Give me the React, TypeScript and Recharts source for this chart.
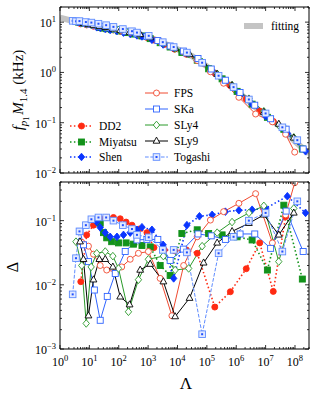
import React from 'react'
import { LineChart, Line, XAxis, YAxis } from 'recharts'

const FONT = '"Liberation Serif", "DejaVu Serif", serif'

// fitting curve (grey band)
const fitLam = [1, 3.16, 10, 31.6, 100, 316, 1000, 3160, 1e4, 3.16e4, 1e5, 3.16e5, 1e6, 3.16e6, 1e7, 3.16e7, 1e8, 3e8]
const fitVal = [12.3, 10.3, 9.0, 7.96, 7.0, 6.07, 5.13, 3.9, 2.9, 2.1, 1.32, 0.76, 0.44, 0.245, 0.135, 0.084, 0.042, 0.0245]

const dd2Lam = [5.1, 8.1, 13.8, 23.4, 38.9, 66, 112, 178, 282, 501, 912, 1580, 3550, 7940, 2.0e4, 4.7e4, 1.86e5, 6.3e5, 2.19e6, 6.3e6, 1.82e7, 4.8e7]
const dd2Fp = [9.25, 8.8, 8.3, 7.85, 7.4, 7.0, 6.6, 6.2, 5.9, 5.45, 4.95, 4.4, 3.6, 2.9, 2.3, 1.75, 0.97, 0.55, 0.295, 0.17, 0.106, 0.067]
const dd2Delta = [0.0112, 0.06, 0.085, 0.107, 0.112, 0.112, 0.107, 0.095, 0.085, 0.074, 0.065, 0.038, 0.035, 0.034, 0.035, 0.031, 0.0045, 0.0078, 0.0178, 0.045, 0.0079, 0.115]

const miyLam = [23.4, 30.2, 38.9, 57.5, 98, 178, 316, 617, 1175, 2570, 5620, 1.41e4, 4.7e4, 1.15e5, 3.3e5, 1.07e6, 3.47e6, 1.15e7, 4.17e7, 1.78e8]
const miyFp = [7.85, 7.6, 7.4, 7.1, 6.7, 6.2, 5.8, 5.3, 4.7, 3.9, 3.2, 2.5, 1.75, 1.18, 0.745, 0.42, 0.234, 0.128, 0.074, 0.03]
const miyDelta = [0.091, 0.065, 0.054, 0.047, 0.045, 0.045, 0.043, 0.041, 0.039, 0.02, 0.014, 0.063, 0.072, 0.063, 0.06, 0.056, 0.05, 0.017, 0.174, 0.0123]

const shenLam = [17.8, 23.4, 34.7, 51, 87, 145, 245, 417, 617, 1350, 3240, 7410, 2.09e4, 5.6e4, 1.51e5, 4.27e5, 1.23e6, 3.47e6, 1.0e7, 5.5e7, 2.29e8]
const shenFp = [7.9, 7.7, 7.35, 7.0, 6.65, 6.2, 5.85, 5.45, 5.2, 4.45, 3.6, 3.1, 2.4, 1.7, 1.07, 0.67, 0.39, 0.234, 0.135, 0.0615, 0.027]
const shenDelta = [0.095, 0.078, 0.065, 0.056, 0.056, 0.06, 0.065, 0.072, 0.079, 0.072, 0.042, 0.0126, 0.085, 0.117, 0.123, 0.138, 0.145, 0.148, 0.155, 0.24, 0.132]

const fpsLam = [5.5, 9.3, 13.8, 23.4, 38.9, 76, 126, 245, 468, 1020, 2570, 6460, 1.62e4, 4.68e4, 1.32e5, 3.72e5, 1.23e6, 4.57e6, 1.7e7, 4.79e7, 9.77e7]
const fpsFp = [9.6, 9.1, 8.7, 8.2, 7.8, 7.2, 6.8, 6.3, 5.75, 5.1, 4.1, 3.2, 2.55, 1.73, 1.03, 0.61, 0.32, 0.149, 0.104, 0.059, 0.026]
const fpsDelta = [0.046, 0.04, 0.03, 0.02, 0.017, 0.016, 0.019, 0.025, 0.031, 0.033, 0.0126, 0.0033, 0.02, 0.056, 0.102, 0.138, 0.186, 0.263, 0.045, 0.123, 0.39]

const skaLam = [4.8, 6.3, 9.3, 14.8, 23.4, 40.7, 76, 166, 417, 912, 2140, 5620, 1.58e4, 5.0e4, 1.41e5, 4.27e5, 1.35e6, 4.27e6, 1.48e7, 5.0e7, 1.9e8]
const skaFp = [9.8, 9.45, 9.1, 8.7, 8.2, 7.75, 7.2, 6.6, 5.85, 5.2, 4.3, 3.35, 2.66, 1.89, 1.17, 0.7, 0.4, 0.223, 0.12, 0.0745, 0.03]
const skaDelta = [0.068, 0.042, 0.023, 0.0083, 0.0028, 0.0066, 0.015, 0.033, 0.05, 0.051, 0.051, 0.024, 0.036, 0.062, 0.058, 0.051, 0.062, 0.062, 0.037, 0.141, 0.033]

const sly4Lam = [3.5, 5.5, 7.8, 11.5, 17.8, 34.7, 63, 98, 214, 468, 1020, 3310, 8320, 2.4e4, 6.9e4, 2.24e5, 7.2e5, 2.7e6, 8.7e6, 2.8e7, 9.1e7]
const sly4Fp = [10.1, 9.6, 9.25, 8.9, 8.5, 7.9, 7.35, 7.0, 6.4, 5.75, 5.1, 3.85, 3.0, 2.3, 1.62, 0.94, 0.56, 0.3, 0.169, 0.089, 0.051]
const sly4Delta = [0.047, 0.02, 0.0025, 0.019, 0.031, 0.033, 0.028, 0.018, 0.0038, 0.012, 0.025, 0.028, 0.017, 0.018, 0.04, 0.065, 0.095, 0.132, 0.17, 0.023, 0.155]

const sly9Lam = [4.8, 6.3, 9.3, 13.8, 21.9, 34.7, 63, 112, 234, 537, 1175, 3310, 8320, 2.57e4, 7.76e4, 2.24e5, 7.24e5, 2.69e6, 8.7e6, 2.82e7, 9.1e7]
const sly9Fp = [9.8, 9.45, 9.1, 8.7, 8.3, 7.9, 7.35, 6.9, 6.3, 5.7, 4.95, 3.85, 3.0, 2.28, 1.51, 0.92, 0.55, 0.29, 0.162, 0.094, 0.05]
const sly9Delta = [0.047, 0.025, 0.0033, 0.012, 0.025, 0.025, 0.019, 0.0065, 0.0049, 0.017, 0.021, 0.0112, 0.0032, 0.0062, 0.022, 0.045, 0.068, 0.091, 0.123, 0.06, 0.132]

const togLam = [2.7, 3.5, 4.6, 7.6, 11.7, 20.4, 37.2, 66, 138, 282, 417, 1050, 3160, 7410, 2.09e4, 6.9e4, 2.51e5, 8.1e5, 2.69e6, 1.0e7, 3.72e7, 1.2e8]
const togFp = [10.6, 10.4, 10.5, 10.05, 9.8, 9.3, 8.7, 8.05, 7.3, 6.6, 6.2, 5.35, 4.0, 3.2, 2.48, 1.56, 0.86, 0.51, 0.29, 0.153, 0.081, 0.045]
const togDelta = [0.0071, 0.026, 0.068, 0.085, 0.105, 0.112, 0.112, 0.1, 0.085, 0.074, 0.06, 0.055, 0.035, 0.035, 0.032, 0.0017, 0.031, 0.056, 0.1, 0.132, 0.033, 0.2]

const xMajor = [1, 10, 100, 1e3, 1e4, 1e5, 1e6, 1e7, 1e8]
const topYMajor = [0.01, 0.1, 1, 10]
const botYMajor = [0.001, 0.01, 0.1]

type Marker = 'circle' | 'square' | 'diamond' | 'triangle' | 'squareDot'
type Pt = { lam: number; v: number }

interface Series {
  name: string
  color: string
  marker: Marker
  filled: boolean
  dash?: string
  width: number
  lam: number[]
  fp: number[]
  delta: number[]
}

const SERIES: Series[] = [
  { name: 'DD2', color: '#ff2a12', marker: 'circle', filled: true, dash: '1.5 2.4', width: 1.6, lam: dd2Lam, fp: dd2Fp, delta: dd2Delta },
  { name: 'Miyatsu', color: '#12921a', marker: 'square', filled: true, dash: '1.5 2.4', width: 1.6, lam: miyLam, fp: miyFp, delta: miyDelta },
  { name: 'Shen', color: '#0a35ff', marker: 'diamond', filled: true, dash: '1.5 2.4', width: 1.6, lam: shenLam, fp: shenFp, delta: shenDelta },
  { name: 'FPS', color: '#f04a30', marker: 'circle', filled: false, width: 1, lam: fpsLam, fp: fpsFp, delta: fpsDelta },
  { name: 'SKa', color: '#2f64ff', marker: 'square', filled: false, width: 1, lam: skaLam, fp: skaFp, delta: skaDelta },
  { name: 'SLy4', color: '#2a9a2a', marker: 'diamond', filled: false, width: 1, lam: sly4Lam, fp: sly4Fp, delta: sly4Delta },
  { name: 'SLy9', color: '#000000', marker: 'triangle', filled: false, width: 1, lam: sly9Lam, fp: sly9Fp, delta: sly9Delta },
  { name: 'Togashi', color: '#5f8cff', marker: 'squareDot', filled: false, dash: '3.7 1.6', width: 1, lam: togLam, fp: togFp, delta: togDelta },
]

const zip = (lam: number[], v: number[]): Pt[] => lam.map((l, i) => ({ lam: l, v: v[i] }))

function withMinor(major: number[], max: number) {
  const out: number[] = []
  major.forEach((m) => {
    for (let k = 1; k <= 9; k++) if (m * k <= max * 1.0001) out.push(m * k)
  })
  return out
}

const xTicks = withMinor(xMajor, 3e8)
const topYTicks = withMinor(topYMajor, 20)
const botYTicks = withMinor(botYMajor, 0.4)

const isMajor = (v: number) => {
  const l = Math.log10(v)
  return Math.abs(l - Math.round(l)) < 1e-6
}
const expText = (v: number) => {
  const e = Math.round(Math.log10(v))
  return e < 0 ? '\u2212' + Math.abs(e) : String(e)
}

function Mark({ cx, cy, s }: { cx: number; cy: number; s: Series }) {
  const c = s.color
  const fill = s.filled ? c : '#fff'
  const sw = 0.9
  switch (s.marker) {
    case 'circle':
      return <circle cx={cx} cy={cy} r={3} fill={fill} stroke={c} strokeWidth={sw} />
    case 'square':
      return <rect x={cx - 3} y={cy - 3} width={6} height={6} fill={fill} stroke={c} strokeWidth={sw} />
    case 'diamond':
      return (
        <polygon
          points={`${cx},${cy - 3.8} ${cx + 3.2},${cy} ${cx},${cy + 3.8} ${cx - 3.2},${cy}`}
          fill={fill}
          stroke={c}
          strokeWidth={sw}
        />
      )
    case 'triangle':
      return (
        <polygon
          points={`${cx},${cy - 3.9} ${cx + 3.4},${cy + 2.2} ${cx - 3.4},${cy + 2.2}`}
          fill={fill}
          stroke={c}
          strokeWidth={sw}
        />
      )
    default:
      return (
        <g>
          <rect x={cx - 3.3} y={cy - 3.3} width={6.6} height={6.6} fill="#e2e9ff" stroke={c} strokeWidth={sw} />
          <rect x={cx - 1} y={cy - 1} width={2} height={2} fill="#1f4fff" />
        </g>
      )
  }
}

const XTick = (props: any) => {
  const { x, y, payload, dir, showLabel } = props
  const v = payload.value
  const major = isMajor(v)
  return (
    <g>
      <line x1={x} x2={x} y1={y} y2={y + dir * (major ? 4 : 2)} stroke="#000" strokeWidth={0.8} />
      {showLabel && major && (
        <text x={x} y={y + 17} textAnchor="middle" fontSize={12} fontFamily={FONT} fill="#000">
          10<tspan dy={-5} fontSize={8.5}>{expText(v)}</tspan>
        </text>
      )}
    </g>
  )
}

const YTick = (props: any) => {
  const { x, y, payload, dir, showLabel } = props
  const v = payload.value
  const major = isMajor(v)
  return (
    <g>
      <line x1={x} x2={x + dir * (major ? 4 : 2)} y1={y} y2={y} stroke="#000" strokeWidth={0.8} />
      {showLabel && major && (
        <text x={x - 4} y={y + 5} textAnchor="end" fontSize={12} fontFamily={FONT} fill="#000">
          10<tspan dy={-5} fontSize={8.5}>{expText(v)}</tspan>
        </text>
      )}
    </g>
  )
}

const axisLine = { stroke: '#000', strokeWidth: 1 }

function Panel({ which }: { which: 'top' | 'bottom' }) {
  const isTop = which === 'top'
  // top panel svg runs a little past the gap so its lowest tick label is not cut
  const height = isTop ? 186 : 216
  const yDomain = isTop ? [0.01, 20] : [0.001, 0.4]
  const yTicks = isTop ? topYTicks : botYTicks
  return (
    <LineChart width={316} height={height} margin={{ top: 0, right: 0, bottom: 0, left: 0 }}>
      <XAxis
        xAxisId="b"
        dataKey="lam"
        type="number"
        scale="log"
        domain={[1, 3e8]}
        allowDataOverflow
        ticks={xTicks}
        interval={0}
        tickSize={0}
        tickMargin={0}
        tickLine={false}
        axisLine={axisLine}
        height={isTop ? 13 : 45}
        tick={(p: any) => <XTick {...p} dir={-1} showLabel={!isTop} />}
      />
      <XAxis
        xAxisId="t"
        orientation="top"
        dataKey="lam"
        type="number"
        scale="log"
        domain={[1, 3e8]}
        allowDataOverflow
        ticks={xTicks}
        interval={0}
        tickSize={0}
        tickMargin={0}
        tickLine={false}
        axisLine={axisLine}
        height={isTop ? 7 : 4}
        tick={(p: any) => <XTick {...p} dir={1} showLabel={false} />}
      />
      <YAxis
        yAxisId="l"
        type="number"
        scale="log"
        domain={yDomain}
        allowDataOverflow
        ticks={yTicks}
        interval={0}
        tickSize={0}
        tickMargin={0}
        tickLine={false}
        axisLine={axisLine}
        width={60}
        tick={(p: any) => <YTick {...p} dir={1} showLabel />}
      />
      <YAxis
        yAxisId="r"
        orientation="right"
        type="number"
        scale="log"
        domain={yDomain}
        allowDataOverflow
        ticks={yTicks}
        interval={0}
        tickSize={0}
        tickMargin={0}
        tickLine={false}
        axisLine={axisLine}
        width={7}
        tick={(p: any) => <YTick {...p} dir={-1} showLabel={false} />}
      />
      {isTop && (
        <Line
          xAxisId="b"
          yAxisId="l"
          data={zip(fitLam, fitVal)}
          dataKey="v"
          stroke="#c4c4c4"
          strokeWidth={6}
          dot={false}
          activeDot={false}
          isAnimationActive={false}
        />
      )}
      {SERIES.map((s) => (
        <Line
          key={s.name}
          xAxisId="b"
          yAxisId="l"
          data={zip(s.lam, isTop ? s.fp : s.delta)}
          dataKey="v"
          stroke={s.color}
          strokeWidth={s.width}
          strokeDasharray={s.dash}
          dot={(p: any) => <Mark key={`${s.name}-${p.index}`} cx={p.cx} cy={p.cy} s={s} />}
          activeDot={false}
          isAnimationActive={false}
        />
      ))}
    </LineChart>
  )
}

function Handle({ s, w }: { s: Series; w: number }) {
  return (
    <svg width={w} height={10} style={{ display: 'block', overflow: 'visible' }}>
      <line x1={0} x2={w} y1={5} y2={5} stroke={s.color} strokeWidth={s.width} strokeDasharray={s.dash} />
      <Mark cx={w / 2} cy={5} s={s} />
    </svg>
  )
}

function LegendRow({ s, x, y, w }: { s: Series; x: number; y: number; w: number }) {
  return (
    <div style={{ position: 'absolute', left: x, top: y - 7, height: 14, display: 'flex', alignItems: 'center', whiteSpace: 'nowrap' }}>
      <Handle s={s} w={w} />
      <span style={{ marginLeft: 6, fontSize: 11.5, lineHeight: '14px' }}>{s.name}</span>
    </div>
  )
}

export default function App() {
  const left = SERIES.slice(0, 3)
  const right = SERIES.slice(3)
  return (
    <div style={{ position: 'absolute', left: 0, top: 0, width: 316, height: 394, background: '#fff', fontFamily: FONT, color: '#000', overflow: 'hidden' }}>
      <div style={{ position: 'absolute', left: 0, top: 178 }}>
        <Panel which="bottom" />
      </div>
      <div style={{ position: 'absolute', left: 0, top: 0, pointerEvents: 'none' }}>
        <Panel which="top" />
      </div>

      {/* fitting legend */}
      <div style={{ position: 'absolute', left: 244, top: 19, height: 14, display: 'flex', alignItems: 'center' }}>
        <div style={{ width: 19, height: 6, background: '#c4c4c4' }} />
        <span style={{ marginLeft: 8, fontSize: 11.5, lineHeight: '14px' }}>fitting</span>
      </div>
      {left.map((s, i) => (
        <LegendRow key={s.name} s={s} x={70} y={126 + i * 15.5} w={23} />
      ))}
      {right.map((s, i) => (
        <LegendRow key={s.name} s={s} x={145} y={93 + i * 16} w={23} />
      ))}

      {/* axis titles */}
      <div style={{ position: 'absolute', left: 20, top: 90, transform: 'translate(-50%, -50%) rotate(-90deg)', whiteSpace: 'nowrap', fontSize: 15 }}>
        <i>f</i>
        <span style={{ fontSize: 11, verticalAlign: '-4px', fontStyle: 'italic' }}>
          p<span style={{ fontSize: 8, verticalAlign: '-2px', fontStyle: 'normal' }}>1</span>
        </span>
        <i style={{ marginLeft: 2 }}>M</i>
        <span style={{ fontSize: 11, verticalAlign: '-4px' }}>1.4</span>
        <span> (kHz)</span>
      </div>
      <div style={{ position: 'absolute', left: 13, top: 267, transform: 'translate(-50%, -50%) rotate(-90deg)', fontSize: 16, lineHeight: '16px' }}>
        Δ
      </div>
      <div style={{ position: 'absolute', left: 186, top: 383, transform: 'translate(-50%, -50%)', fontSize: 17, lineHeight: '17px' }}>
        Λ
      </div>
    </div>
  )
}
